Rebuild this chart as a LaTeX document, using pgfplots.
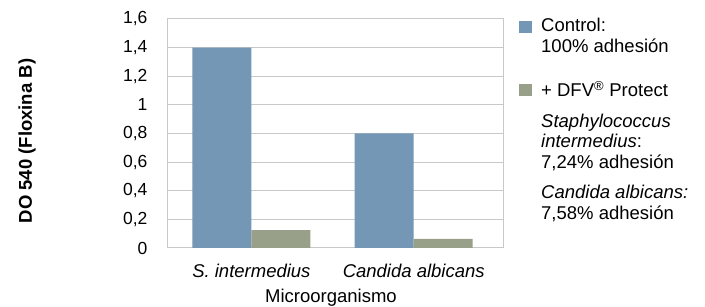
\documentclass[border=0pt]{standalone}
\usepackage{fontspec}
\setmainfont{Liberation Sans}
\usepackage{pgfplots}
\pgfplotsset{compat=1.18}
\definecolor{cblue}{RGB}{115,151,181}
\definecolor{cgreen}{RGB}{152,160,138}
\definecolor{gridc}{RGB}{200,200,200}
\begin{document}
\begin{tikzpicture}
\useasboundingbox (0pt,0pt) rectangle (705pt,307pt);
\begin{axis}[
  at={(167pt,59pt)}, anchor=south west,
  scale only axis, width=336pt, height=229pt,
  ybar, bar width=59pt,
  xmin=-0.52, xmax=1.55,
  ymin=0, ymax=1.6,
  ytick={0,0.2,...,1.6},
  xtick={0,1},
  xticklabels={\textit{S. intermedius},\textit{Candida albicans}},
  xtick style={draw=none}, ytick style={draw=none},
  ymajorgrids, grid style={gridc, line width=1pt},
  axis line style={gridc, line width=1pt},
  /pgf/number format/use comma,
  /pgf/number format/fixed,
  /pgf/number format/assume math mode=true,
  yticklabel style={font=\fontsize{17.5}{20}\selectfont, xshift=-16pt},
  xticklabel style={font=\fontsize{18.5}{22}\selectfont, yshift=-8pt},
]
\addplot[fill=cblue, draw=none, bar shift=-29.5pt] coordinates {(0,1.40) (1,0.80)};
\addplot[fill=cgreen, draw=none, bar shift=29.5pt] coordinates {(0,0.125) (1,0.063)};
\end{axis}
\node[rotate=90, font=\fontsize{18.5}{22}\selectfont\bfseries] at (27pt,166pt) {DO 540 (Floxina B)};
\node[font=\fontsize{18.5}{22}\selectfont] at (331pt,9pt) {Microorganismo};
\fill[cblue] (519pt,274pt) rectangle (532pt,286pt);
\fill[cgreen] (519pt,211pt) rectangle (532pt,223pt);
\begin{scope}[every node/.style={anchor=base west, inner sep=0pt, font=\fontsize{18.5}{22}\selectfont}]
\node at (541pt,275pt) {Control:};
\node at (541pt,254pt) {100\% adhesión};
\node at (541pt,210pt) {+ DFV\textsuperscript{®} Protect};
\node at (541pt,179pt) {\textit{Staphylococcus}};
\node at (541pt,159pt) {\textit{intermedius}:};
\node at (541pt,138pt) {7,24\% adhesión};
\node at (541pt,108pt) {\textit{Candida albicans:}};
\node at (541pt,87pt) {7,58\% adhesión};
\end{scope}
\end{tikzpicture}
\end{document}
